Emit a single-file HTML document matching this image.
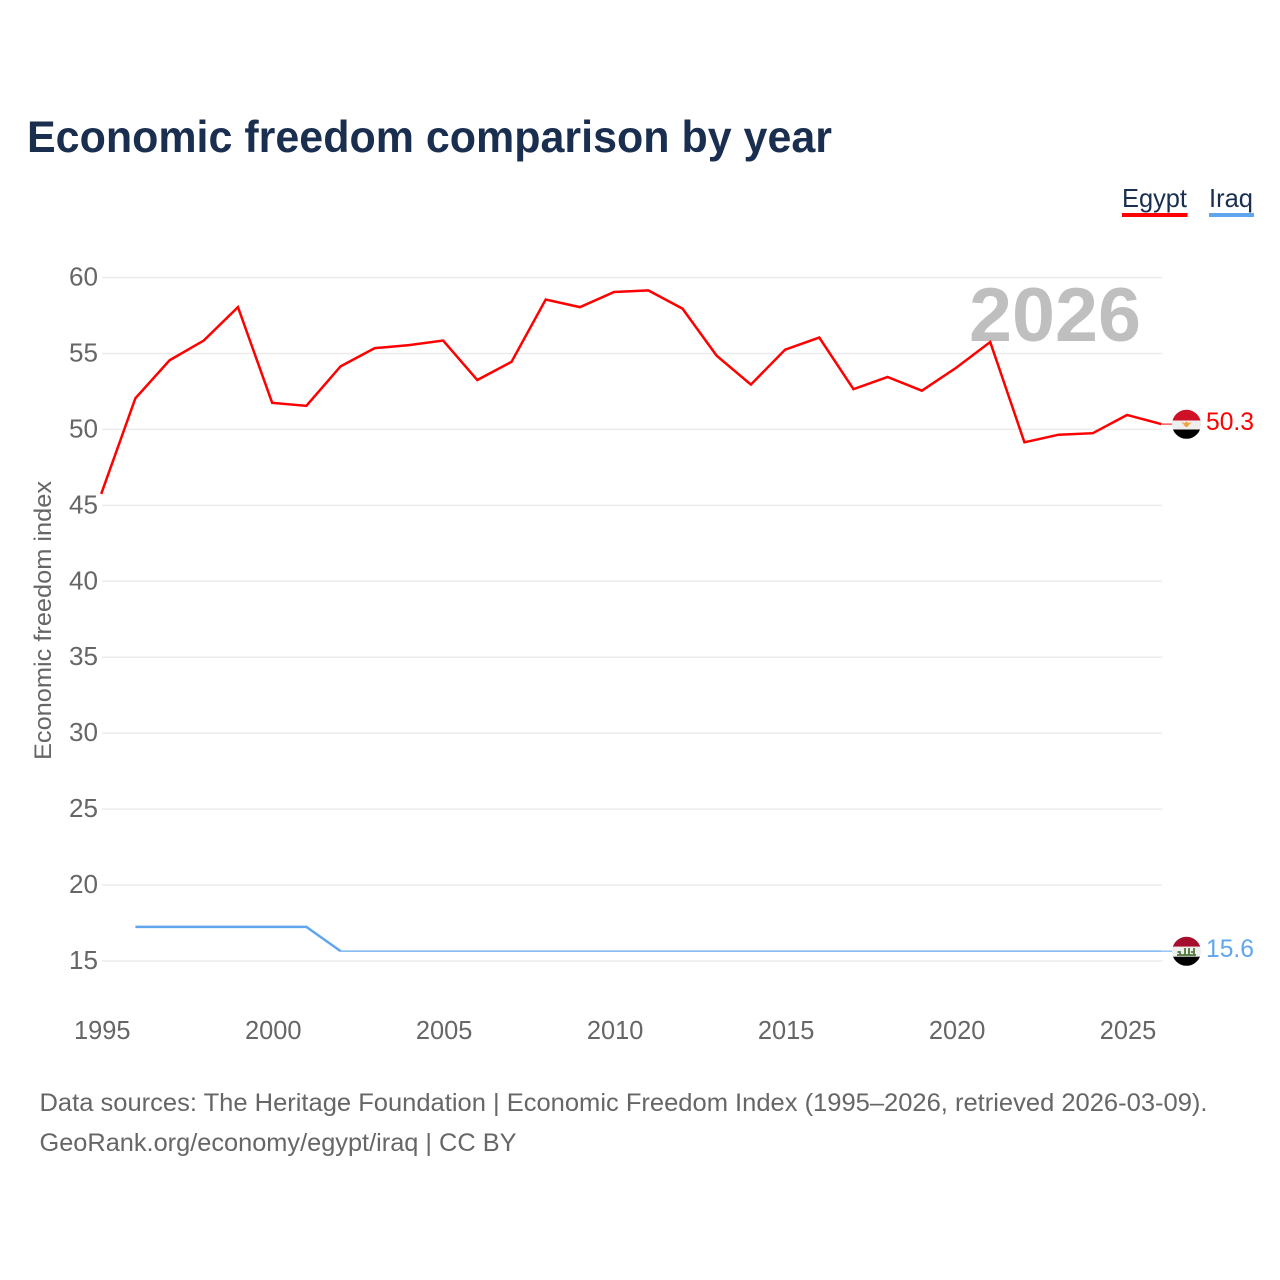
<!DOCTYPE html>
<html>
<head>
<meta charset="utf-8">
<title>Economic freedom comparison by year</title>
<style>
html,body{margin:0;padding:0;background:#fff;}
svg{display:block;font-family:"Liberation Sans",sans-serif;}
</style>
</head>
<body>
<svg id="chart" width="1280" height="1280" viewBox="0 0 1280 1280" xmlns="http://www.w3.org/2000/svg">
  <defs>
    <clipPath id="egypt-clip"><circle cx="1186.500" cy="424.300" r="14.500"/></clipPath>
    <clipPath id="iraq-clip"><circle cx="1186.500" cy="951.300" r="14.500"/></clipPath>
  </defs>
  <rect width="1280" height="1280" fill="#fff"/>
  <text x="27" y="152" font-size="44.500" font-weight="700" fill="#1a2f4f" textLength="805" lengthAdjust="spacingAndGlyphs">Economic freedom comparison by year</text>

  <g>
    <text x="1122" y="207" font-size="26" fill="#1a2f4f" textLength="65" lengthAdjust="spacingAndGlyphs">Egypt</text>
    <rect x="1122" y="213" width="65.500" height="4" fill="#ff0000"/>
  </g>
  <g>
    <text x="1209" y="207" font-size="26" fill="#1a2f4f" textLength="44" lengthAdjust="spacingAndGlyphs">Iraq</text>
    <rect x="1209" y="213" width="45" height="4" fill="#5fa6ee"/>
  </g>

  <text transform="translate(51,760) rotate(-90)" font-size="24.500" fill="#666" textLength="279" lengthAdjust="spacingAndGlyphs">Economic freedom index</text>

  <g id="grid"></g>
  <g id="y-ticks"></g>
  <g id="x-ticks"></g>

  <text x="969" y="341" font-size="76" font-weight="700" fill="#bfbfbf" textLength="172" lengthAdjust="spacingAndGlyphs">2026</text>

  <g id="series"></g>

  <g clip-path="url(#egypt-clip)">
    <rect x="1171" y="409" width="32" height="11.500" fill="#ce1126"/>
    <rect x="1171" y="420.500" width="32" height="9" fill="#eeeeee"/>
    <rect x="1171" y="429.500" width="32" height="11" fill="#000"/>
    <path d="M1181.500 422l3 1 2-1.500 2 1.500 3-1-2.500 3-1.500 2h-2l-1.500-2z" fill="#f2a33a"/>
  </g>
  <g clip-path="url(#iraq-clip)">
    <rect x="1171" y="936" width="32" height="10.700" fill="#a50e2d"/>
    <rect x="1171" y="946.700" width="32" height="10" fill="#eeeeee"/>
    <rect x="1171" y="956.700" width="32" height="11" fill="#000"/>
    <path d="M1177 955h19M1180 955v-3h-2.500M1185 955v-7M1189 955v-7M1194 955v-7M1188 952h2M1191 952h2" stroke="#4f7a3a" stroke-width="1.800" fill="none"/>
  </g>

  <text x="1206" y="430" font-size="25" fill="#ff0000" textLength="48" lengthAdjust="spacingAndGlyphs">50.3</text>
  <text x="1206" y="957" font-size="25" fill="#5fa6ee" textLength="48" lengthAdjust="spacingAndGlyphs">15.6</text>

  <text x="39.500" y="1111" font-size="25" fill="#666" textLength="1168" lengthAdjust="spacingAndGlyphs">Data sources: The Heritage Foundation | Economic Freedom Index (1995–2026, retrieved 2026-03-09).</text>
  <text x="39.500" y="1151" font-size="25" fill="#666" textLength="477" lengthAdjust="spacingAndGlyphs">GeoRank.org/economy/egypt/iraq | CC BY</text>
</svg>
<script>
const years = [1995,1996,1997,1998,1999,2000,2001,2002,2003,2004,2005,2006,2007,2008,2009,2010,2011,2012,2013,2014,2015,2016,2017,2018,2019,2020,2021,2022,2023,2024,2025,2026];
const egyptValues = [45.7,52,54.5,55.8,58,51.7,51.5,54.1,55.3,55.5,55.8,53.2,54.4,58.5,58,59,59.1,57.9,54.8,52.9,55.2,56,52.6,53.4,52.5,54,55.7,49.1,49.6,49.7,50.9,50.3];
const iraqValues = [null,17.2,17.2,17.2,17.2,17.2,17.2,15.6,15.6,15.6,15.6,15.6,15.6,15.6,15.6,15.6,15.6,15.6,15.6,15.6,15.6,15.6,15.6,15.6,15.6,15.6,15.6,15.6,15.6,15.6,15.6,15.6];
const yTickValues = [15,20,25,30,35,40,45,50,55,60];
const xTickValues = [1995,2000,2005,2010,2015,2020,2025];

const NS = 'http://www.w3.org/2000/svg';
function xScale(year){ return 102 + (year - 1995) * (1162 - 102) / 31; }
function yScale(value){ return 961 - (value - 15) * (961 - 277.5) / 45; }
function xLine(year){ return xScale(year) - 0.8; }
function yLine(value){ return yScale(value) - 0.75; }

const gridGroup = document.getElementById('grid');
const yTickGroup = document.getElementById('y-ticks');
const xTickGroup = document.getElementById('x-ticks');
const seriesGroup = document.getElementById('series');

yTickValues.forEach(function(v){
  const line = document.createElementNS(NS, 'line');
  
  
  line.setAttribute('x1', 102);
  line.setAttribute('x2', 1162);
  line.setAttribute('y1', yScale(v));
  line.setAttribute('y2', yScale(v));
  line.setAttribute('stroke', '#ebebeb');
  line.setAttribute('stroke-width', '1.500');
  gridGroup.appendChild(line);

  const label = document.createElementNS(NS, 'text');
  
  
  label.setAttribute('x', 69);
  label.setAttribute('y', yScale(v) + 8);
  label.setAttribute('font-size', '25.500');
  label.setAttribute('fill', '#666');
  label.setAttribute('textLength', '29');
  label.setAttribute('lengthAdjust', 'spacingAndGlyphs');
  label.textContent = String(v);
  yTickGroup.appendChild(label);
});

xTickValues.forEach(function(y){
  const label = document.createElementNS(NS, 'text');
  
  
  label.setAttribute('x', xScale(y) - 28);
  label.setAttribute('y', 1039);
  label.setAttribute('font-size', '25.500');
  label.setAttribute('fill', '#666');
  label.setAttribute('textLength', '56.500');
  label.setAttribute('lengthAdjust', 'spacingAndGlyphs');
  label.textContent = String(y);
  xTickGroup.appendChild(label);
});

function pathFor(values, from, to){
  let d = '';
  for (let i = from; i <= to; i++) {
    if (values[i] === null) continue;
    d += (d ? 'L' : 'M') + xLine(years[i]).toFixed(2) + ' ' + yLine(values[i]).toFixed(2);
  }
  return d;
}

const lastIndex = years.length - 1;

const egyptLine = document.createElementNS(NS, 'path');


egyptLine.setAttribute('d', pathFor(egyptValues, 0, lastIndex));
egyptLine.setAttribute('fill', 'none');
egyptLine.setAttribute('stroke', '#ff0000');
egyptLine.setAttribute('stroke-width', '2.500');
seriesGroup.appendChild(egyptLine);

let iraqFlatStart = lastIndex;
while (iraqFlatStart > 0 && iraqValues[iraqFlatStart - 1] === iraqValues[lastIndex]) iraqFlatStart--;

const iraqLine = document.createElementNS(NS, 'path');


iraqLine.setAttribute('d', pathFor(iraqValues, 0, iraqFlatStart));
iraqLine.setAttribute('fill', 'none');
iraqLine.setAttribute('stroke', '#5fa6ee');
iraqLine.setAttribute('stroke-width', '2.500');
seriesGroup.appendChild(iraqLine);

const iraqTail = document.createElementNS(NS, 'path');


iraqTail.setAttribute('d', pathFor(iraqValues, iraqFlatStart, lastIndex));
iraqTail.setAttribute('fill', 'none');
iraqTail.setAttribute('stroke', '#5fa6ee');
iraqTail.setAttribute('stroke-width', '1.300');
seriesGroup.appendChild(iraqTail);

const egyptConnector = document.createElementNS(NS, 'line');


egyptConnector.setAttribute('x1', xLine(2026));
egyptConnector.setAttribute('x2', 1172);
egyptConnector.setAttribute('y1', yLine(egyptValues[lastIndex]));
egyptConnector.setAttribute('y2', yLine(egyptValues[lastIndex]));
egyptConnector.setAttribute('stroke', '#ff0000');
egyptConnector.setAttribute('stroke-width', '1');
seriesGroup.appendChild(egyptConnector);

const iraqConnector = document.createElementNS(NS, 'line');


iraqConnector.setAttribute('x1', xLine(2026));
iraqConnector.setAttribute('x2', 1172);
iraqConnector.setAttribute('y1', yLine(iraqValues[lastIndex]));
iraqConnector.setAttribute('y2', yLine(iraqValues[lastIndex]));
iraqConnector.setAttribute('stroke', '#5fa6ee');
iraqConnector.setAttribute('stroke-width', '1');
seriesGroup.appendChild(iraqConnector);
</script>
</body>
</html>
